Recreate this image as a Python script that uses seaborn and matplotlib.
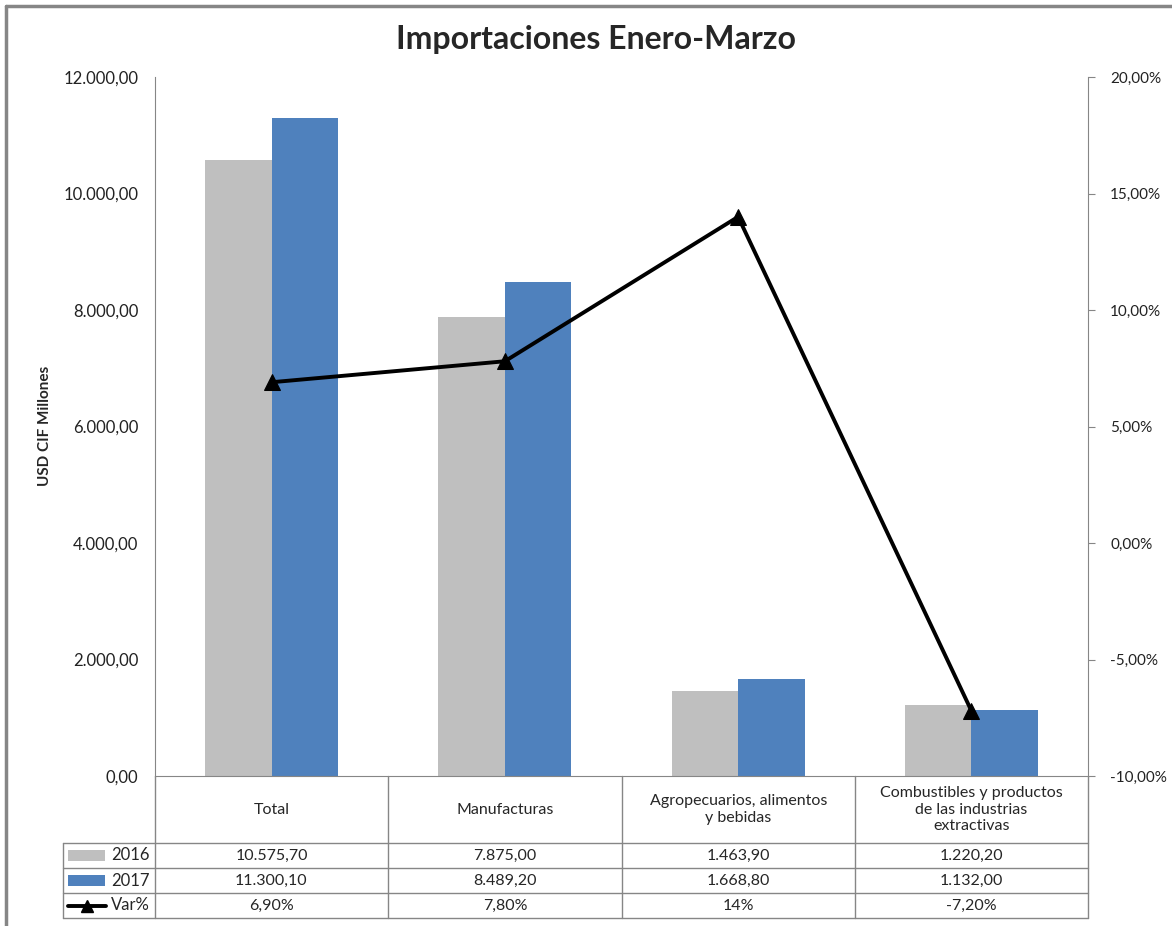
import seaborn as sns
import matplotlib.pyplot as plt
import matplotlib.ticker as mticker
import matplotlib.lines as mlines
import matplotlib.patches as mpatches
import pandas as pd

# data
categories = ['Total', 'Manufacturas', 'Agropecuarios, alimentos\ny bebidas',
              'Combustibles y productos\nde las industrias\nextractivas']
years = ['2016', '2017']
values_2016 = [10575.70, 7875.00, 1463.90, 1220.20]
values_2017 = [11300.10, 8489.20, 1668.80, 1132.00]
var_pct = [6.90, 7.80, 14.0, -7.20]
var_labels = ['6,90%', '7,80%', '14%', '-7,20%']

gray = '#BFBFBF'
blue = '#4F81BD'
line_gray = '#868686'

sns.set_style('white')
plt.rcParams['font.family'] = ['Lato', 'DejaVu Sans']


def es_num(v, dec=2):
    s = f'{v:,.{dec}f}'
    return s.replace(',', 'X').replace('.', ',').replace('X', '.')


df = pd.DataFrame({
    'cat': categories * 2,
    'year': [years[0]] * 4 + [years[1]] * 4,
    'value': values_2016 + values_2017,
})

fig = plt.figure(figsize=(11.72, 9.26), dpi=100)
ax = fig.add_axes([155 / 1172, 1 - 776 / 926, 933 / 1172, 699 / 926])

sns.barplot(data=df, x='cat', y='value', hue='year', hue_order=years,
            palette=[gray, blue], width=0.57, saturation=1, ax=ax, legend=False,
            edgecolor='none')
ax.set_xlim(-0.5, 3.5)
ax.set_ylim(0, 12000)
ax.set_yticks(range(0, 12001, 2000))
ax.yaxis.set_major_formatter(mticker.FuncFormatter(lambda v, p: es_num(v)))
ax.tick_params(axis='y', labelsize=12, length=0, pad=12, colors='#222222')
ax.set_xticks([])
ax.set_xlabel('')
ax.set_ylabel('')
for s in ['left', 'bottom']:
    ax.spines[s].set_color(line_gray)
ax.spines['top'].set_visible(False)
ax.spines['right'].set_visible(False)

fig.text(45 / 1172, 1 - 426 / 926, 'USD CIF Millones', rotation=90, ha='center',
         va='center', fontsize=11, fontweight='bold')

ax2 = ax.twinx()
sns.lineplot(x=list(range(4)), y=var_pct, ax=ax2, color='black', lw=2.8,
             marker='^', markersize=11, markeredgecolor='black')
ax2.set_ylim(-10, 20)
ax2.set_yticks(range(-10, 21, 5))
ax2.yaxis.set_major_formatter(mticker.FuncFormatter(lambda v, p: es_num(v) + '%'))
ax2.tick_params(axis='y', labelsize=11, length=5, pad=11, colors='#222222')
ax2.tick_params(axis='y', color=line_gray)
for s in ['left', 'top', 'bottom']:
    ax2.spines[s].set_visible(False)
ax2.spines['right'].set_color(line_gray)

fig.text(596 / 1172, 1 - 40 / 926, 'Importaciones Enero-Marzo', ha='center',
         va='center', fontsize=23, fontweight='bold')

# data table under the chart
def ay(py):
    return (776 - py) / 699

def ax_(px):
    return (px - 155) / 933

rows = [843, 868, 893, 918]
col_edges = [155, 388, 622, 855, 1088]
kw = dict(transform=ax.transAxes, clip_on=False, color=line_gray, lw=1)
for xe in col_edges:
    ax.add_line(mlines.Line2D([ax_(xe)] * 2, [ay(776), ay(918)], **kw))
ax.add_line(mlines.Line2D([ax_(63)] * 2, [ay(843), ay(918)], **kw))
for r in rows:
    ax.add_line(mlines.Line2D([ax_(63), ax_(1088)], [ay(r)] * 2, **kw))

for i, c in enumerate(categories):
    xc = ax_((col_edges[i] + col_edges[i + 1]) / 2)
    ax.text(xc, ay(809.5), c, transform=ax.transAxes, ha='center', va='center',
            fontsize=11.5, linespacing=1.25)
    for r, txt in zip(rows[:3], [es_num(values_2016[i]), es_num(values_2017[i]), var_labels[i]]):
        ax.text(xc, ay(r + 12.5), txt, transform=ax.transAxes, ha='center',
                va='center', fontsize=11.5)

# legend keys
for r, col in zip(rows[:2], [gray, blue]):
    ax.add_patch(mpatches.Rectangle((ax_(68), ay(r + 18)), (105 - 68) / 933, 11 / 699,
                                    transform=ax.transAxes, clip_on=False,
                                    facecolor=col, edgecolor='none'))
ax.add_line(mlines.Line2D([ax_(68), ax_(106)], [ay(905.5)] * 2, transform=ax.transAxes,
                          clip_on=False, color='black', lw=2.8))
ax.add_line(mlines.Line2D([ax_(87)], [ay(905.5)], transform=ax.transAxes, clip_on=False,
                          color='black', marker='^', markersize=9))
for r, lab in zip(rows[:3], ['2016', '2017', 'Var%']):
    ax.text(ax_(150), ay(r + 12.5), lab, transform=ax.transAxes, ha='right',
            va='center', fontsize=12)

# outer chart frame
fig.add_artist(mlines.Line2D([6 / 1172, 6 / 1172], [0, 1 - 6 / 926], color=line_gray, lw=2.5))
fig.add_artist(mlines.Line2D([6 / 1172, 1], [1 - 6 / 926] * 2, color=line_gray, lw=2.5))

fig.savefig('out.png', dpi=100)
